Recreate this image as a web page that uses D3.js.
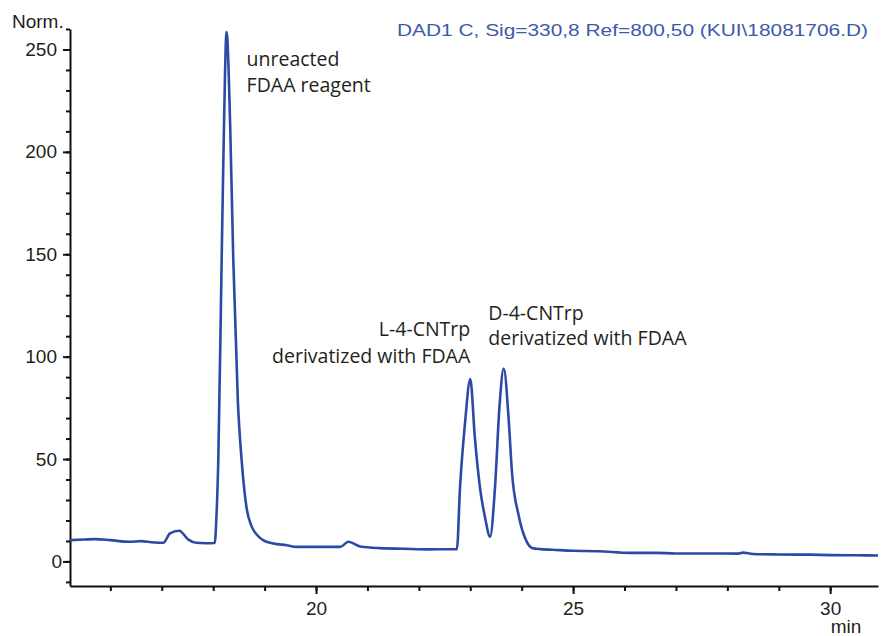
<!DOCTYPE html>
<html lang="en">

<head>
    <meta charset="UTF-8">
    <script src="https://cdnjs.cloudflare.com/ajax/libs/d3/7.9.0/d3.min.js"></script>
    <title>Chromatogram</title>
    <style>
        body {
            margin: 0;
            background-color: white;
        }

        svg {
            display: block;
        }

        .axis text {
            font-family: "Liberation Sans", Arial, sans-serif;
            font-size: 19px;
            fill: #231f20;
        }

        .axis path,
        .axis line {
            stroke: #111;
            stroke-width: 2;
        }

        .note {
            font-family: "Open Sans", sans-serif;
            font-size: 19.5px;
            fill: #231f20;
        }
    </style>
</head>

<body>
    <script>
        // retention time (min) and signal (Norm.)
        const times = [15.21, 15.5, 15.7, 16.0, 16.38, 16.6, 16.8, 17.03, 17.16, 17.34, 17.51, 17.67, 17.85, 18.03,
            18.06, 18.10, 18.165, 18.21, 18.26, 18.33, 18.39, 18.48, 18.55, 18.65, 18.75, 18.85, 18.97, 19.17,
            19.43, 19.62, 20.0, 20.47, 20.63, 20.86, 21.25, 21.7, 22.2, 22.74, 22.80, 22.90, 23.0, 23.09,
            23.19, 23.29, 23.385, 23.48, 23.57, 23.65, 23.75, 23.81, 23.94, 24.07, 24.2, 24.36, 24.6, 25.0,
            25.5, 26.1, 26.6, 27.0, 27.6, 28.2, 28.3, 28.5, 29.0, 29.6, 30.0, 30.5, 30.93];
        const signal = [10.4, 10.7, 10.9, 10.4, 9.6, 9.9, 9.4, 9.1, 13.7, 15.0, 10.8, 9.1, 8.9, 9.0,
            20, 50.4, 148, 213, 258.5, 213, 148, 78, 50.4, 26, 17, 13, 10.4, 8.8,
            7.9, 7.1, 7.1, 7.1, 9.6, 7.3, 6.5, 6.2, 5.9, 6.0, 35.8, 68.2, 89, 60.2,
            35.8, 21.1, 12, 35.8, 76.3, 94.2, 68.2, 43.8, 22.6, 11.2, 6.6, 6.0, 5.7, 5.2,
            5.0, 4.2, 4.2, 3.9, 3.9, 3.8, 4.3, 3.6, 3.4, 3.3, 3.1, 3.0, 2.9];

        const yMajor = [0, 50, 100, 150, 200, 250];
        const yMinor = d3.range(-10, 261, 10);
        const xMajor = [20, 25, 30];
        const xMinor = d3.range(16, 31, 1);

        const title = "DAD1 C, Sig=330,8 Ref=800,50 (KUI\\18081706.D)";
        const notes = [
            { lines: ["unreacted", "FDAA reagent"], t: 18.65, v: 242, anchor: "start", gap: 26 },
            { lines: ["L-4-CNTrp", "derivatized with FDAA"], t: 23.0, v: 110, anchor: "end", gap: 27 },
            { lines: ["D-4-CNTrp", "derivatized with FDAA"], t: 23.35, v: 118, anchor: "start", gap: 25 }
        ];

        const width = 881;
        const height = 636;
        const margin = { top: 29, right: 3, bottom: 50, left: 70 };

        const svg = d3.select("body").append("svg")
            .attr("width", width)
            .attr("height", height);

        const x = d3.scaleLinear()
            .domain([15.215, 30.93])
            .range([margin.left, width - margin.right]);

        const y = d3.scaleLinear()
            .domain([-12, 260])
            .range([height - margin.bottom, margin.top]);

        // minor ticks first, then major ticks with labels
        svg.append("g")
            .attr("class", "axis")
            .attr("transform", `translate(${margin.left},0)`)
            .call(d3.axisLeft(y).tickValues(yMinor).tickSize(4).tickFormat("").tickSizeOuter(0));

        svg.append("g")
            .attr("class", "axis")
            .attr("transform", `translate(${margin.left},0)`)
            .call(d3.axisLeft(y).tickValues(yMajor).tickSize(7).tickPadding(6).tickSizeOuter(0))
            .call(g => g.select(".domain").remove())
            .selectAll("text")
            .attr("dx", d => d === 0 ? 5 : 0);

        svg.append("g")
            .attr("class", "axis")
            .attr("transform", `translate(0,${height - margin.bottom})`)
            .call(d3.axisBottom(x).tickValues(xMinor).tickSize(5).tickFormat("").tickSizeOuter(0));

        svg.append("g")
            .attr("class", "axis")
            .attr("transform", `translate(0,${height - margin.bottom})`)
            .call(d3.axisBottom(x).tickValues(xMajor).tickSize(8).tickPadding(8).tickSizeOuter(0))
            .call(g => g.select(".domain").remove());

        svg.append("text")
            .attr("x", 12)
            .attr("y", 28)
            .style("font-family", "Liberation Sans, Arial, sans-serif")
            .style("font-size", "19px")
            .attr("fill", "#231f20")
            .text("Norm.");

        svg.append("text")
            .attr("x", 846)
            .attr("y", 633)
            .attr("text-anchor", "middle")
            .style("font-family", "Liberation Sans, Arial, sans-serif")
            .style("font-size", "19px")
            .attr("fill", "#231f20")
            .text("min");

        svg.append("text")
            .attr("x", 397)
            .attr("y", 36)
            .attr("textLength", 471)
            .attr("lengthAdjust", "spacingAndGlyphs")
            .style("font-family", "Liberation Sans, Arial, sans-serif")
            .style("font-size", "16.5px")
            .attr("fill", "#3d59a8")
            .text(title);

        const line = d3.line()
            .x((d, i) => x(times[i]))
            .y(d => y(d))
            .curve(d3.curveMonotoneX);

        svg.append("path")
            .datum(signal)
            .attr("d", line)
            .attr("fill", "none")
            .attr("stroke", "#2c4aa5")
            .attr("stroke-width", 2.6)
            .attr("stroke-linejoin", "round");

        notes.forEach(n => {
            const t = svg.append("text")
                .attr("class", "note")
                .attr("text-anchor", n.anchor)
                .attr("x", x(n.t))
                .attr("y", y(n.v));
            n.lines.forEach((s, i) => {
                t.append("tspan")
                    .attr("x", x(n.t))
                    .attr("dy", i === 0 ? 0 : n.gap)
                    .text(s);
            });
        });
    </script>
</body>

</html>
